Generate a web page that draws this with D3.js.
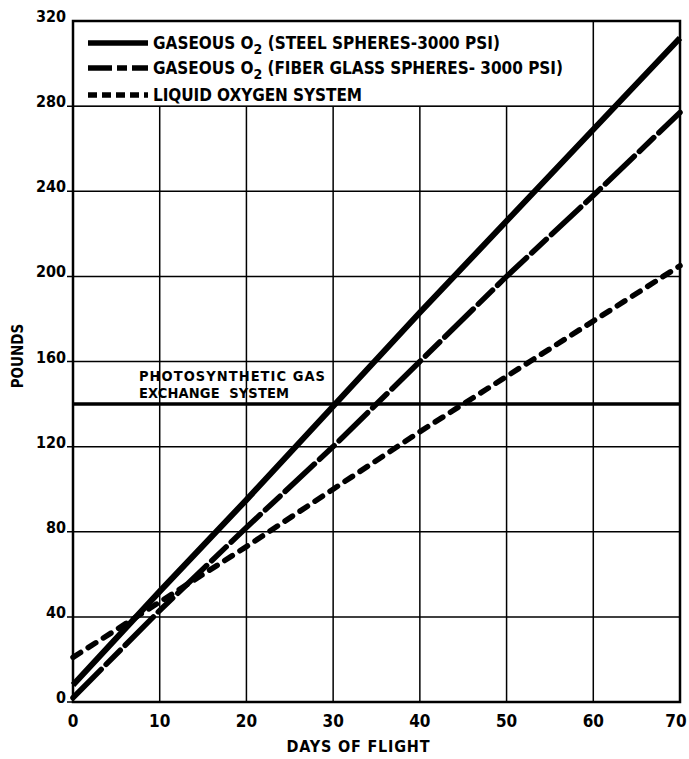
<!DOCTYPE html>
<html>
<head>
<meta charset="utf-8">
<script src="https://cdn.jsdelivr.net/npm/d3@7"></script>
<style>
  body { margin: 0; background: #fff; }
  text { font-family: "DejaVu Sans Condensed", "Liberation Sans Narrow", sans-serif; font-weight: bold; fill: #000; }
</style>
</head>
<body>
<div id="chart"></div>
<script>
// data
var days = [0, 10, 20, 30, 40, 50, 60, 70]
var steelLbs = [8, 52, 95, 139, 183, 226, 269, 312]
var fiberLbs = [2, 43, 82, 120, 160, 200, 238, 277]
var loxLbs = [21, 47, 73, 100, 127, 153, 179, 205]
var photoDays = [0, 70]
var photoLbs = [140, 140]
var xTicks = [0, 10, 20, 30, 40, 50, 60, 70]
var yTicks = [0, 40, 80, 120, 160, 200, 240, 280, 320]
var legendNames = ["STEEL SPHERES-3000 PSI", "FIBER GLASS SPHERES- 3000 PSI", "LIQUID OXYGEN SYSTEM"]

var width = 689, height = 759

var x = d3.scaleLinear().domain([0, 70]).range([73, 680])
var y = d3.scaleLinear().domain([0, 320]).range([702, 21])

var svg = d3.select("#chart").append("svg")
    .attr("width", width)
    .attr("height", height)

// grid
svg.selectAll(".vgrid")
  .data(xTicks.slice(1, -1))
  .enter().append("line")
    .attr("x1", d => x(d)).attr("x2", d => x(d))
    .attr("y1", y(0)).attr("y2", y(320))
    .attr("stroke", "#000").attr("stroke-width", 1.5)

svg.selectAll(".hgrid")
  .data(yTicks.slice(0, -1))
  .enter().append("line")
    .attr("x1", x(0) - 6).attr("x2", x(70))
    .attr("y1", d => y(d)).attr("y2", d => y(d))
    .attr("stroke", "#000").attr("stroke-width", 1.5)

// legend box sits on top of the grid
svg.append("rect")
    .attr("x", x(0)).attr("y", y(320))
    .attr("width", x(60) - x(0)).attr("height", y(280) - y(320))
    .attr("fill", "#fff").attr("stroke", "#000").attr("stroke-width", 1.5)

// frame
svg.append("rect")
    .attr("x", x(0)).attr("y", y(320))
    .attr("width", x(70) - x(0)).attr("height", y(0) - y(320))
    .attr("fill", "none").attr("stroke", "#000").attr("stroke-width", 2.5)

// tick labels
svg.selectAll(".ylab")
  .data(yTicks)
  .enter().append("text")
    .attr("x", x(0) - 7)
    .attr("y", d => y(d) + 1)
    .attr("text-anchor", "end")
    .style("font-size", "16px")
    .text(d => d)

svg.selectAll(".xlab")
  .data(xTicks)
  .enter().append("text")
    .attr("x", d => x(d) + (d == 70 ? -4 : 0))
    .attr("y", y(0) + 25)
    .attr("text-anchor", "middle")
    .style("font-size", "17px")
    .text(d => d)

svg.append("text")
    .attr("x", 358).attr("y", 752)
    .attr("text-anchor", "middle")
    .style("font-size", "16px")
    .attr("textLength", 143)
    .attr("lengthAdjust", "spacing")
    .text("DAYS OF FLIGHT")

svg.append("text")
    .attr("transform", "translate(23,356) rotate(-90)")
    .attr("text-anchor", "middle")
    .style("font-size", "15px")
    .text("POUNDS")

// series lines
var line = d3.line()
    .x(d => x(d[0]))
    .y(d => y(d[1]))

var series = [
  {vals: steelLbs, width: 6, dash: null, legendDash: null},
  {vals: fiberLbs, width: 5.5, dash: "40,7,20,7", legendDash: "24,5,10,5"},
  {vals: loxLbs, width: 5.5, dash: "9,9", legendDash: "9,5"}
]

svg.append("path")
    .attr("d", line(d3.zip(photoDays, photoLbs)))
    .attr("fill", "none").attr("stroke", "#000").attr("stroke-width", 3.5)

svg.selectAll(".series")
  .data(series)
  .enter().append("path")
    .attr("d", d => line(d3.zip(days, d.vals)))
    .attr("fill", "none")
    .attr("stroke", "#000")
    .attr("stroke-width", d => d.width)
    .attr("stroke-linecap", d => d.dash ? "round" : "butt")
    .attr("stroke-dasharray", d => d.dash)

svg.append("text")
    .attr("x", 139).attr("y", 381)
    .style("font-size", "14.5px")
    .attr("textLength", 186)
    .attr("lengthAdjust", "spacing")
    .text("PHOTOSYNTHETIC GAS")
svg.append("text")
    .attr("x", 139).attr("y", 398)
    .style("font-size", "14.5px")
    .attr("textLength", 150)
    .attr("lengthAdjust", "spacing")
    .attr("xml:space", "preserve")
    .text("EXCHANGE  SYSTEM")

// legend
var legendY = [43, 68, 95]
var legendLen = [347, 410, 209]
legendNames.forEach(function(name, i) {
  svg.append("line")
      .attr("x1", 88).attr("x2", 148)
      .attr("y1", legendY[i]).attr("y2", legendY[i])
      .attr("stroke", "#000").attr("stroke-width", 5.5)
      .attr("stroke-dasharray", series[i].legendDash)
  var t = svg.append("text")
      .attr("x", 153).attr("y", legendY[i] + 6)
      .style("font-size", "17px")
      .attr("textLength", legendLen[i])
      .attr("lengthAdjust", "spacing")
  if (i < 2) {
    t.append("tspan").text("GASEOUS O")
    t.append("tspan").attr("dy", 5).style("font-size", "14px").text("2")
    t.append("tspan").attr("dy", -5).text(" (" + name + ")")
  } else {
    t.text(name)
  }
})
</script>
</body>
</html>
